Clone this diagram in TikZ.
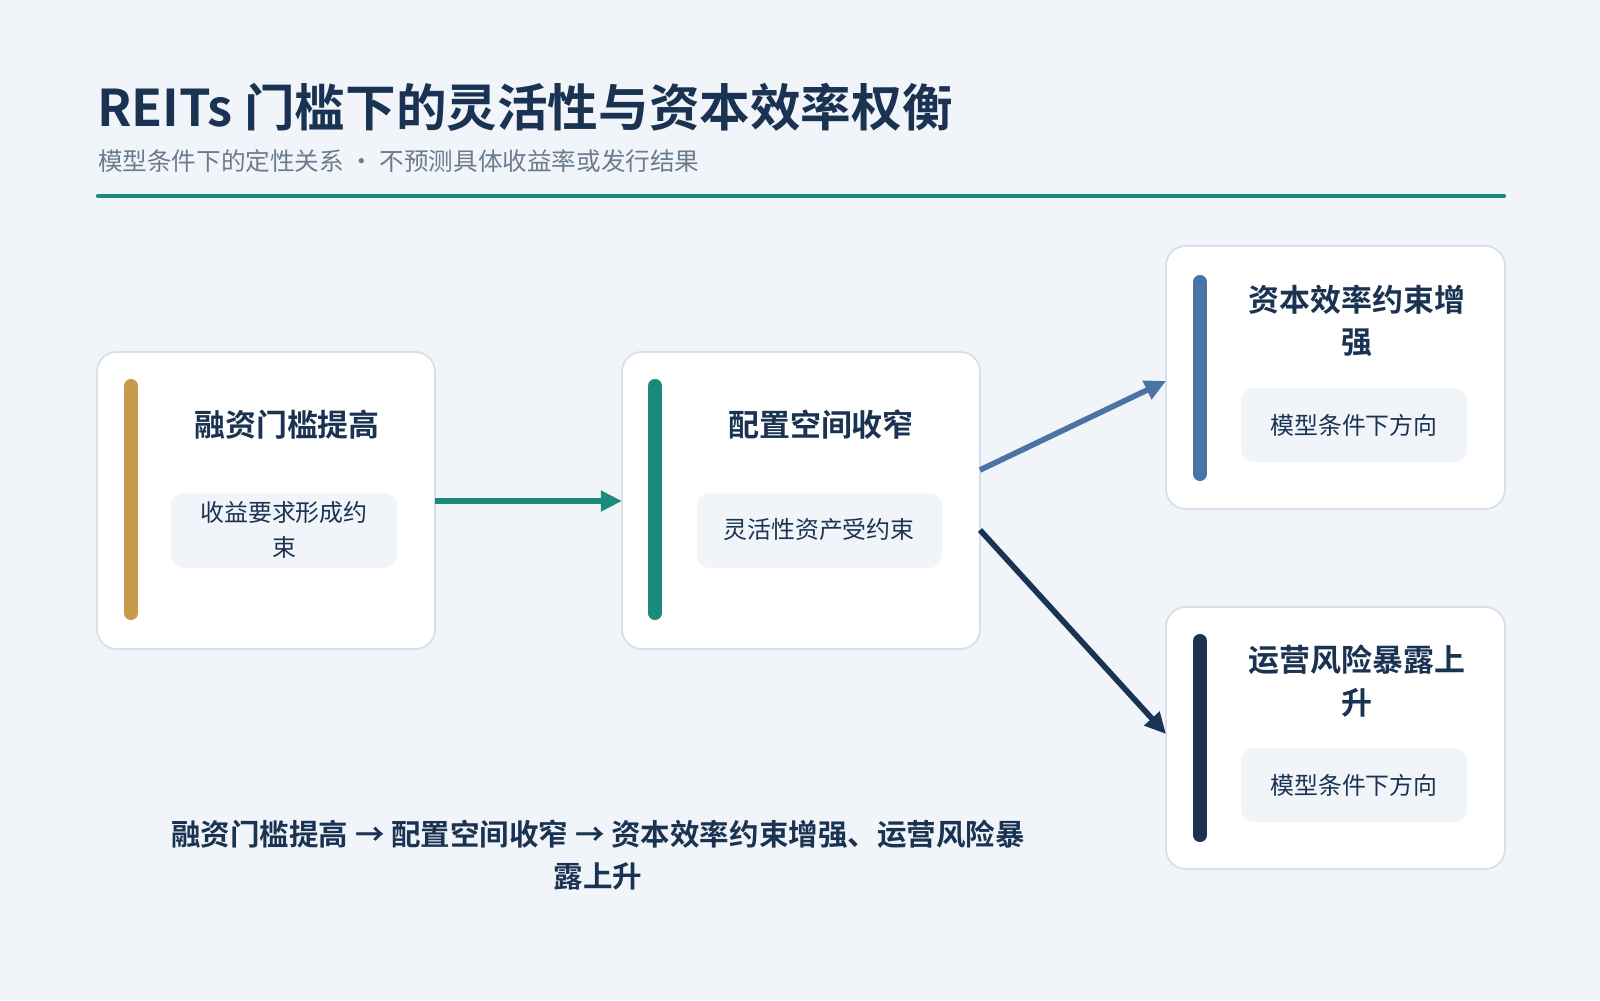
\documentclass[tikz,border=0pt]{standalone}
\usepackage{fontspec}
\setmainfont{Noto Sans CJK SC}[BoldFont={Noto Sans CJK SC Bold}]
\usetikzlibrary{arrows.meta}
\definecolor{bg}{HTML}{F1F5F9}
\definecolor{navy}{HTML}{1B3352}
\definecolor{teal}{HTML}{1A8A7A}
\definecolor{gold}{HTML}{C8994A}
\definecolor{steel}{HTML}{4A74A4}
\definecolor{bord}{HTML}{D6DFEA}
\definecolor{sub}{HTML}{6B7C8F}
\begin{document}
\begin{tikzpicture}[x=0.05cm,y=-0.05cm,
  card/.style={draw=bord,line width=2.5pt,fill=white,rounded corners=28},
  inner/.style={fill=bg,rounded corners=18},
  bar/.style={line width=20pt,line cap=round},
  ttl/.style={font=\fontsize{44}{60}\selectfont\bfseries,text=navy,align=center},
  txt/.style={font=\fontsize{34}{50}\selectfont,text=navy,align=center},
  conn/.style={line width=8pt,-{Triangle[length=30pt,width=28pt]}}]
\useasboundingbox[fill=bg] (0,0) rectangle (1600,1000);
\node[anchor=west,font=\fontsize{72}{80}\selectfont\bfseries,text=navy,inner sep=0] (title) at (97,107) {REITs 门槛下的灵活性与资本效率权衡};
\node[anchor=west,font=\fontsize{35}{40}\selectfont,text=sub,inner sep=0] (subt) at (98,161) {模型条件下的定性关系 · 不预测具体收益率或发行结果};
\draw[teal,line width=6pt,line cap=round] (98,196) -- (1504,196);
% box1
\draw[card] (97,352) rectangle (435,649);
\draw[bar,gold] (131,386) -- (131,613);
\node[ttl] (t1) at (287,425) {融资门槛提高};
\fill[inner] (171,493) rectangle (397,568);
\node[txt] (s1) at (284,530) {收益要求形成约\\束};
% box2
\draw[card] (622,352) rectangle (980,649);
\draw[bar,teal] (655,386) -- (655,613);
\node[ttl] (t2) at (821,425) {配置空间收窄};
\fill[inner] (697,493) rectangle (942,568);
\node[txt] (s2) at (819,529) {灵活性资产受约束};
% box3
\draw[card] (1166,246) rectangle (1505,509);
\draw[bar,steel] (1200,282) -- (1200,474);
\node[ttl] (t3) at (1357,321) {资本效率约束增\\强};
\fill[inner] (1241,388) rectangle (1467,462);
\node[txt] (s3) at (1354,425) {模型条件下方向};
% box4
\draw[card] (1166,607) rectangle (1505,869);
\draw[bar,navy] (1200,641) -- (1200,835);
\node[ttl] (t4) at (1357,681) {运营风险暴露上\\升};
\fill[inner] (1241,748) rectangle (1467,822);
\node[txt] (s4) at (1354,785) {模型条件下方向};
% connectors
\coordinate (a1) at (435,501); \coordinate (a2) at (622,501);
\coordinate (b1) at (980,470); \coordinate (b2) at (1166,381);
\coordinate (c1) at (980,530); \coordinate (c2) at (1166,734);
\draw[conn,teal] (a1) -- (a2);
\draw[conn,steel] (b1) -- (b2);
\draw[conn,navy] (c1) -- (c2);
\node[font=\fontsize{42}{60}\selectfont\bfseries,text=navy,align=center] (sum) at (598,855) {融资门槛提高 → 配置空间收窄 → 资本效率约束增强、运营风险暴\\露上升};
\end{tikzpicture}
\end{document}
